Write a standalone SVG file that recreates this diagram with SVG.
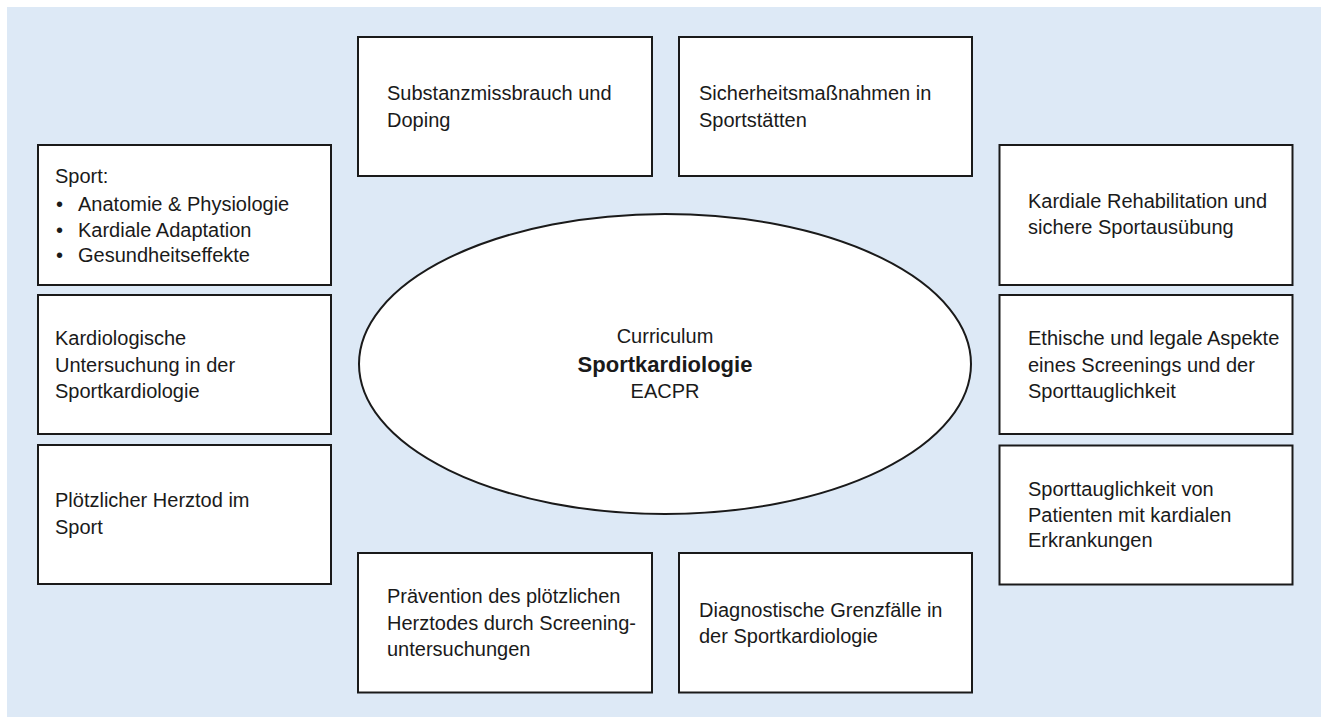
<svg xmlns="http://www.w3.org/2000/svg" width="1321" height="717" viewBox="0 0 1321 717">
<style>
.bg{fill:#ffffff}
.panel{fill:#dde9f6}
.box{fill:#ffffff;stroke:#1a1a1a;stroke-width:2}
.ell{fill:#ffffff;stroke:#1a1a1a;stroke-width:2}
text{font-family:"Liberation Sans",Arial,sans-serif;font-size:20px;fill:#1a1a1a}
.c{text-anchor:middle}
.b{font-weight:bold;font-size:22px}
</style>
<rect class="bg" x="0" y="0" width="1321" height="717"/>
<rect class="panel" x="7" y="7" width="1314" height="710"/>
<g id="connectors"></g>
<g id="center">
<ellipse class="ell" cx="665" cy="364" rx="306" ry="150"/>
<text class="c" x="665" y="343">Curriculum</text>
<text class="c b" x="665" y="372">Sportkardiologie</text>
<text class="c" x="665" y="398">EACPR</text>
</g>
<g id="substanz">
<rect class="box" x="358" y="37" width="294" height="139"/>
<text x="387" y="100">Substanzmissbrauch und</text>
<text x="387" y="127">Doping</text>
</g>
<g id="sicherheit">
<rect class="box" x="679" y="37" width="293" height="139"/>
<text x="699" y="100">Sicherheitsmaßnahmen in</text>
<text x="699" y="127">Sportstätten</text>
</g>
<g id="sport">
<rect class="box" x="38" y="145" width="293" height="140"/>
<text x="55" y="183">Sport:</text>
<text x="56" y="211">•</text><text x="78" y="211">Anatomie &amp; Physiologie</text>
<text x="56" y="237">•</text><text x="78" y="237">Kardiale Adaptation</text>
<text x="56" y="262">•</text><text x="78" y="262">Gesundheitseffekte</text>
</g>
<g id="kardiologische">
<rect class="box" x="38" y="295" width="293" height="139"/>
<text x="55" y="345">Kardiologische</text>
<text x="55" y="371.5">Untersuchung in der</text>
<text x="55" y="398">Sportkardiologie</text>
</g>
<g id="ploetzlich">
<rect class="box" x="38" y="445" width="293" height="139"/>
<text x="55" y="507">Plötzlicher Herztod im</text>
<text x="55" y="533.5">Sport</text>
</g>
<g id="rehabilitation">
<rect class="box" x="999.5" y="145" width="293" height="140"/>
<text x="1028" y="208">Kardiale Rehabilitation und</text>
<text x="1028" y="234">sichere Sportausübung</text>
</g>
<g id="ethisch">
<rect class="box" x="999.5" y="295" width="293" height="139"/>
<text x="1028" y="345">Ethische und legale Aspekte</text>
<text x="1028" y="371.5">eines Screenings und der</text>
<text x="1028" y="398">Sporttauglichkeit</text>
</g>
<g id="sporttauglichkeit">
<rect class="box" x="999.5" y="445.5" width="293" height="139"/>
<text x="1028" y="496">Sporttauglichkeit von</text>
<text x="1028" y="521.5">Patienten mit kardialen</text>
<text x="1028" y="547">Erkrankungen</text>
</g>
<g id="praevention">
<rect class="box" x="358" y="553" width="294" height="139.5"/>
<text x="387" y="603">Prävention des plötzlichen</text>
<text x="387" y="629.5">Herztodes durch Screening-</text>
<text x="387" y="656">untersuchungen</text>
</g>
<g id="grenzfaelle">
<rect class="box" x="679" y="553" width="293" height="139.5"/>
<text x="699" y="616.5">Diagnostische Grenzfälle in</text>
<text x="699" y="643">der Sportkardiologie</text>
</g>
</svg>
